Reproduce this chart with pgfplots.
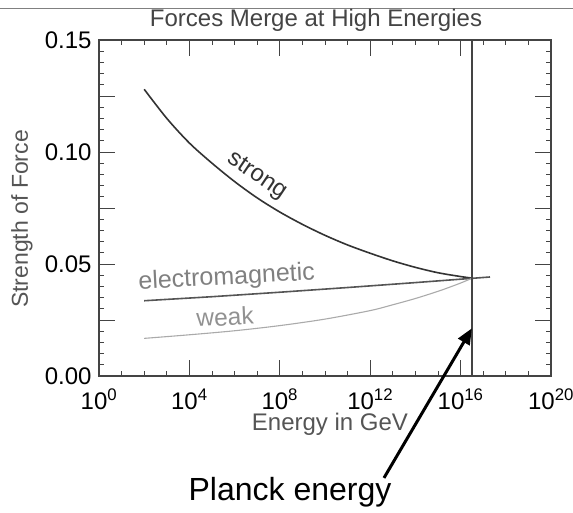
\documentclass[border=0pt]{standalone}
\usepackage{fontspec}
\setmainfont{Liberation Sans}
\usepackage{pgfplots}
\pgfplotsset{compat=1.18}
\usetikzlibrary{arrows.meta}

\definecolor{axisc}{HTML}{444444}
\definecolor{strongc}{HTML}{333333}
\definecolor{emc}{HTML}{555555}
\definecolor{weakc}{HTML}{AAAAAA}
\definecolor{titlec}{HTML}{444444}
\definecolor{labelc}{HTML}{555555}

\begin{document}
\begin{tikzpicture}
\useasboundingbox (-99pt,-136pt) rectangle (474pt,376pt);
\draw[line width=1.2pt, color=gray] (-99pt,367.7pt) -- (474pt,367.7pt);
\begin{axis}[
    at={(0,0)}, anchor=south west,
    scale only axis,
    width=452pt, height=336pt,
    xmode=log, log basis x=10,
    xmin=1, xmax=1e20,
    ymin=0, ymax=0.15,
    xtick={1,1e4,1e8,1e12,1e16,1e20},
    xticklabels={10\textsuperscript{0},10\textsuperscript{4},10\textsuperscript{8},10\textsuperscript{12},10\textsuperscript{16},10\textsuperscript{20}},
    minor xtick={1e1,1e2,1e3,1e5,1e6,1e7,1e9,1e10,1e11,1e13,1e14,1e15,1e17,1e18,1e19},
    ytick={0,0.025,0.05,0.075,0.1,0.125,0.15},
    yticklabels={0.00,,0.05,,0.10,,0.15},
    minor y tick num=4,
    major tick length=16pt, minor tick length=5pt,
    tick align=inside,
    tick style={color=axisc, line width=1pt},
    axis line style={color=axisc, line width=1.2pt},
    ticklabel style={font=\fontsize{24}{28}\selectfont, text=black},
    xticklabel style={yshift=-9pt},
    yticklabel style={xshift=-4pt},
    clip=false,
]

% strong
\addplot[color=strongc, line width=1.6pt, smooth] coordinates {
    (1e2,0.128) (1e3,0.1150) (1e4,0.1040) (1e5,0.0950) (1e6,0.0868)
    (1e7,0.0795) (1e8,0.0732) (1e9,0.0677) (1e10,0.0628) (1e11,0.0585)
    (1e12,0.0548) (1e13,0.0514) (1e14,0.0485) (1e15,0.0461) (1e16,0.0444)
    (3.16e16,0.0437)
};

% electromagnetic
\addplot[color=emc, line width=1.6pt] coordinates {
    (1e2,0.0336) (1e5,0.0354) (1e8,0.0374) (1e11,0.0395) (1e14,0.0417)
    (3.16e16,0.0436) (2e17,0.0442)
};

% weak
\addplot[color=weakc, line width=1.1pt, smooth] coordinates {
    (1e2,0.0168) (1e4,0.0184) (1e6,0.0202) (1e8,0.0225) (1e10,0.0254)
    (1e12,0.0292) (1e13,0.0318) (1e14,0.0346) (1e15,0.0378) (3.16e15,0.0396)
    (1e16,0.0415) (3.16e16,0.0436)
};

% Planck line
\addplot[color=axisc, line width=1.4pt] coordinates {(3.16e16,0) (3.16e16,0.15)};

\draw[line width=3pt, -{Triangle[length=16pt,width=13pt]}]
    (axis cs:4.07e12,-0.0455) -- (axis cs:3.16e16,0.0213);
\end{axis}

\node[anchor=base, inner sep=0, font=\fontsize{24}{28}\selectfont, text=titlec]
    at (217pt,349.3pt) {Forces Merge at High Energies};
\node[anchor=base, inner sep=0, font=\fontsize{24}{28}\selectfont, text=labelc]
    at (231pt,-54pt) {Energy in GeV};
\node[rotate=90, inner sep=0, font=\fontsize{23}{28}\selectfont, text=labelc]
    at (-77pt,157pt) {Strength of Force};
\node[anchor=base, inner sep=0, font=\fontsize{32}{38}\selectfont, text=black]
    at (191pt,-124pt) {Planck energy};
\node[rotate=-34, inner sep=0, font=\fontsize{24}{28}\selectfont, text=strongc]
    at (158pt,200pt) {strong};
\node[rotate=3, inner sep=0, font=\fontsize{25}{28}\selectfont, text=gray]
    at (127.7pt,98pt) {electromagnetic};
\node[rotate=3, inner sep=0, font=\fontsize{24.5}{28}\selectfont, text=weakc!85!black]
    at (126pt,59.3pt) {weak};
\end{tikzpicture}
\end{document}
